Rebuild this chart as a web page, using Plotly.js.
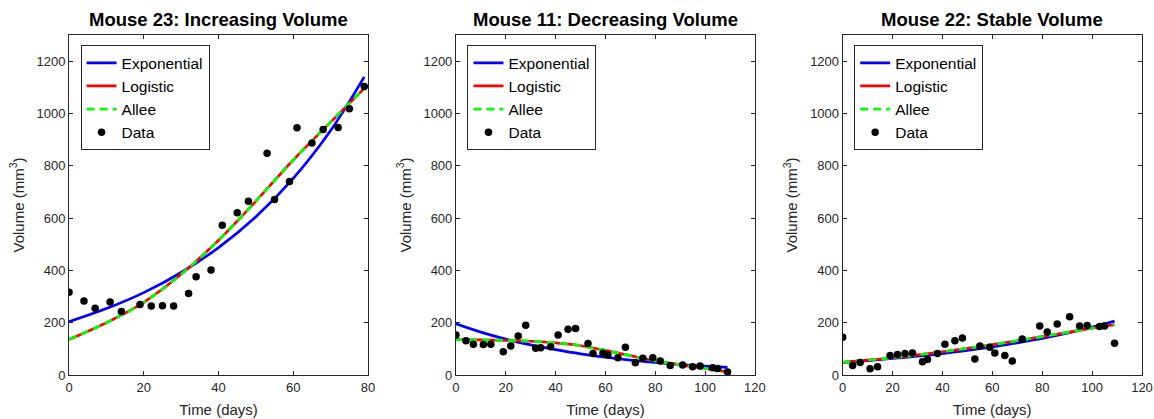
<!DOCTYPE html>
<html>
<head>
<meta charset="utf-8">
<script src="https://cdn.plot.ly/plotly-3.0.1.min.js"></script>
<style>html,body{margin:0;padding:0;background:#fff;}#chart{width:1154px;height:419px;}</style>
</head>
<body>
<div id="chart"></div>
<script>
// ---- Panel titles & legend names ----
const panelTitles = ["Mouse 23: Increasing Volume", "Mouse 11: Decreasing Volume", "Mouse 22: Stable Volume"];
const seriesNames = ["Exponential", "Logistic", "Allee", "Data"];

// ---- Mouse 23 (increasing) ----
const days1 = [0, 4, 7, 11, 14, 19, 22, 25, 28, 32, 34, 38, 41, 45, 48, 53, 55, 59, 61, 65, 68, 72, 75, 79];
const vol1  = [316, 283, 255, 279, 243, 270, 264, 265, 264, 312, 376, 401, 573, 620, 664, 848, 671, 740, 945, 887, 939, 946, 1018, 1103];
const fitDays1 = [0, 10, 20, 30, 40, 50, 60, 70, 79];
const expFit1    = [204, 254, 315, 392, 487, 605, 752, 935, 1140];
const logFit1    = [136, 200, 278, 385, 515, 665, 822, 967, 1096];
const alleeFit1  = [136, 200, 278, 385, 515, 665, 822, 967, 1096];

// ---- Mouse 11 (decreasing) ----
const days2 = [0, 4, 7, 11, 14, 19, 22, 25, 28, 32, 34, 38, 41, 45, 48, 53, 55, 59, 61, 65, 68, 72, 75, 79, 82, 86, 91, 95, 98, 103, 105, 109];
const vol2  = [153, 131, 118, 117, 118, 89, 111, 149, 190, 102, 104, 108, 153, 175, 178, 120, 82, 83, 76, 66, 106, 47, 64, 66, 54, 36, 38, 32, 34, 28, 25, 11];
const fitDays2 = [0, 10, 20, 30, 40, 50, 60, 70, 80, 90, 100, 109];
const expFit2    = [196, 164, 137, 115, 97, 81, 68, 57, 48, 40, 34, 29];
const logFit2    = [135, 134, 132, 129, 123, 112, 94, 74, 54, 39, 25, 12];
const alleeFit2  = [135, 134, 132, 129, 123, 112, 94, 74, 54, 39, 25, 12];

// ---- Mouse 22 (stable) ----
const days3 = [0, 4, 7, 11, 14, 19, 22, 25, 28, 32, 34, 38, 41, 45, 48, 53, 55, 59, 61, 65, 68, 72, 79, 82, 86, 91, 95, 98, 103, 105, 109];
const vol3  = [144, 36, 48, 24, 32, 75, 78, 82, 84, 51, 59, 82, 118, 131, 141, 61, 111, 106, 84, 75, 54, 138, 187, 164, 195, 223, 187, 189, 185, 187, 121];
const fitDays3 = [0, 10, 20, 30, 40, 50, 60, 70, 80, 90, 100, 109];
const expFit3    = [48, 55, 63, 72, 82, 94, 107, 123, 140, 160, 183, 206];
const logFit3    = [48, 57, 66, 77, 89, 102, 116, 131, 147, 163, 179, 192];
const alleeFit3  = [48, 57, 66, 77, 89, 102, 116, 131, 147, 163, 179, 192];

// ---- Axis ranges / ticks ----
const xMax = [80, 120, 120];
const yTicks = [0, 200, 400, 600, 800, 1000, 1200];

const FONT = "Liberation Sans, Arial, Helvetica, sans-serif";
const AX = "#262626";
const panels = [
  {d: days1, v: vol1, fd: fitDays1, e: expFit1, l: logFit1, a: alleeFit1},
  {d: days2, v: vol2, fd: fitDays2, e: expFit2, l: logFit2, a: alleeFit2},
  {d: days3, v: vol3, fd: fitDays3, e: expFit3, l: logFit3, a: alleeFit3}
];
const domains = [[0.0598, 0.3189], [0.3951, 0.6542], [0.7302, 0.9896]];

const traces = [];
const layout = {
  width: 1154, height: 419,
  margin: {l: 0, r: 0, t: 35, b: 44},
  paper_bgcolor: "#fff", plot_bgcolor: "#fff",
  font: {family: FONT, color: AX, size: 13},
  showlegend: true,
  annotations: []
};

panels.forEach((p, i) => {
  const n = i === 0 ? "" : String(i + 1);
  const xa = "x" + n, ya = "y" + n;
  const lg = i === 0 ? "legend" : "legend" + (i + 1);
  traces.push({x: p.fd, y: p.e, xaxis: xa, yaxis: ya, mode: "lines", name: seriesNames[0], legend: lg,
    line: {color: "#0000ff", width: 2.7, shape: "spline"}});
  traces.push({x: p.fd, y: p.l, xaxis: xa, yaxis: ya, mode: "lines", name: seriesNames[1], legend: lg,
    line: {color: "#ff0000", width: 2.7, shape: "spline"}});
  traces.push({x: p.fd, y: p.a, xaxis: xa, yaxis: ya, mode: "lines", name: seriesNames[2], legend: lg,
    line: {color: "#00ff00", width: 2.7, shape: "spline", dash: "8px,5px"}});
  traces.push({x: p.d, y: p.v, xaxis: xa, yaxis: ya, mode: "markers", name: seriesNames[3], legend: lg,
    marker: {color: "#000", size: 7.5}});

  const xTicks = [];
  for (let t = 0; t <= xMax[i]; t += 20) xTicks.push(t);

  layout["xaxis" + n] = {
    domain: domains[i], anchor: ya, range: [0, xMax[i]],
    tickvals: xTicks, ticks: "inside", ticklen: 4, tickcolor: AX, tickwidth: 1,
    showline: true, linecolor: AX, linewidth: 1, mirror: "ticks",
    showgrid: false, zeroline: false, automargin: false,
    tickfont: {size: 13, color: AX, family: FONT},
    title: {text: "Time (days)", font: {size: 15, color: AX, family: FONT}, standoff: 10}
  };
  layout["yaxis" + n] = {
    domain: [0, 1], anchor: xa, range: [0, 1300],
    tickvals: yTicks, ticks: "inside", ticklen: 4, tickcolor: AX, tickwidth: 1,
    showline: true, linecolor: AX, linewidth: 1, mirror: "ticks",
    showgrid: false, zeroline: false, automargin: false,
    tickfont: {size: 13, color: AX, family: FONT},
    title: {text: "Volume (mm<sup>3</sup>)", font: {size: 15, color: AX, family: FONT}, standoff: 8}
  };
  layout[lg] = {
    x: domains[i][0] + 0.010, y: 0.97, xanchor: "left", yanchor: "top",
    xref: "paper", yref: "paper",
    bgcolor: "#fff", bordercolor: "#262626", borderwidth: 1,
    font: {size: 15.5, color: "#000", family: FONT},
    tracegroupgap: 0, itemwidth: 30
  };
  layout.annotations.push({
    text: "<b>" + panelTitles[i] + "</b>", xref: "paper", yref: "paper",
    x: (domains[i][0] + domains[i][1]) / 2, y: 1, yshift: 3, xanchor: "center", yanchor: "bottom",
    showarrow: false, font: {size: 18.5, color: "#000", family: FONT}
  });
});

Plotly.newPlot("chart", traces, layout, {displayModeBar: false, staticPlot: true});
</script>
</body>
</html>
